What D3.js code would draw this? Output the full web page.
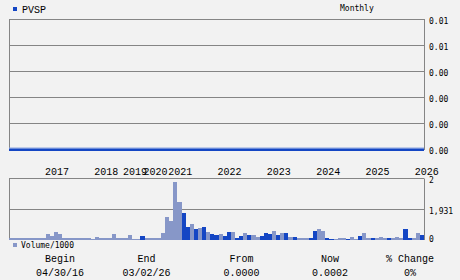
<!DOCTYPE html>
<html>
<head>
<meta charset="utf-8">
<script src="https://cdn.jsdelivr.net/npm/d3@7"></script>
<style>
  body { margin: 0; background: #f2f2f2; }
  svg { display: block; }
  .small { font-family: "DejaVu Sans Mono", monospace; font-size: 8px; fill: #000; }
  .mono { font-family: "Liberation Mono", monospace; font-size: 10px; fill: #000; }
</style>
</head>
<body>
<div id="chart"></div>
<script>
var symbol = "PVSP";
var period = "Monthly";

var months = [
  "2016-04","2016-05","2016-06","2016-07","2016-08","2016-09","2016-10","2016-11","2016-12",
  "2017-01","2017-02","2017-03","2017-04","2017-05","2017-06","2017-07","2017-08","2017-09","2017-10","2017-11","2017-12",
  "2018-01","2018-02","2018-03","2018-04","2018-06","2018-08","2018-11",
  "2019-02","2019-04","2019-06","2019-09","2019-12",
  "2020-02","2020-04","2020-07","2020-09","2020-11","2020-12",
  "2021-01","2021-02","2021-03","2021-04","2021-05","2021-06","2021-07","2021-08","2021-09","2021-10","2021-11","2021-12",
  "2022-01","2022-02","2022-03","2022-04","2022-05","2022-06","2022-07","2022-08","2022-09","2022-10","2022-11","2022-12",
  "2023-01","2023-02","2023-03","2023-04","2023-05","2023-06","2023-07","2023-08","2023-09","2023-10","2023-11","2023-12",
  "2024-01","2024-02","2024-03","2024-04","2024-05","2024-06","2024-07","2024-08","2024-09","2024-10","2024-11","2024-12",
  "2025-01","2025-02","2025-03","2025-04","2025-05","2025-06","2025-07","2025-08","2025-09","2025-10","2025-11","2025-12",
  "2026-01","2026-02"
];

// volume in thousands
var volume = [
  0.07,0.07,0.07,0.07,0.07,0.07,0.07,0.07,0.07,0.20,
  0.13,0.26,0.20,0.07,0.07,0.07,0.07,0.07,0.07,0.07,
  0.03,0.10,0.05,0.05,0.05,0.20,0.07,0.07,0.05,0.16,
  0.03,0.03,0.13,0.07,0.07,0.07,0.07,0.23,0.75,0.62,
  1.90,1.25,0.89,0.43,0.52,0.36,0.39,0.43,0.26,0.20,
  0.16,0.20,0.13,0.26,0.26,0.07,0.13,0.23,0.16,0.16,
  0.10,0.13,0.23,0.20,0.30,0.16,0.23,0.23,0.10,0.10,
  0.07,0.07,0.07,0.07,0.30,0.36,0.30,0.07,0.03,0.03,
  0.07,0.07,0.03,0.10,0.03,0.13,0.23,0.07,0.07,0.07,
  0.10,0.07,0.07,0.07,0.10,0.07,0.36,0.07,0.07,0.23,
  0.16
];

// 1 = up month (dark bar), 0 = down/flat (light bar)
var upMonth = [
  0,0,0,0,0,0,0,0,0,0,
  0,0,0,0,0,0,0,0,0,0,
  0,0,0,0,0,0,0,0,0,0,
  0,0,1,0,0,0,0,0,0,0,
  0,0,1,1,0,1,0,1,0,1,
  1,0,1,1,0,1,1,0,1,0,
  0,1,1,1,0,1,0,1,0,1,
  0,0,0,1,1,0,0,1,1,0,
  0,0,1,0,0,1,0,0,1,0,
  0,0,1,0,0,0,1,1,0,0,
  1
];

var price = [
  0,0,0,0,0,0,0,0,0,0,
  0,0,0,0,0,0,0,0,0,0,
  0,0,0,0,0,0,0,0,0,0,
  0,0,0,0,0,0,0,0,0,0,
  0,0,0,0,0,0,0,0,0,0,
  0,0,0,0,0,0,0,0,0,0,
  0,0,0,0,0,0,0,0,0,0,
  0,0,0,0,0,0,0,0,0,0,
  0,0,0,0,0,0,0,0,0,0,
  0,0,0,0,0,0,0,0,0,0,
  0
];

var priceTicks = [0, 0.002, 0.004, 0.006, 0.008, 0.01];
var priceTickLabels = ["0.00", "0.00", "0.00", "0.00", "0.01", "0.01"];
var volTicks = [0, 1, 2];
var volTickLabels = ["0", "1,931", "2"];

var summaryHeads = ["Begin", "End", "From", "Now", "% Change"];
var summaryValues = ["04/30/16", "03/02/26", "0.0000", "0.0002", "0%"];

drawChart();

function drawChart() {

  var width = 460, height = 280;
  var left = 9, right = 424;
  var dark = "#1446c4", light = "#8797c8", grid = "#858585";

  var svg = d3.select("#chart").append("svg")
      .attr("width", width)
      .attr("height", height);

  var x = d3.scaleBand().domain(months).range([left, right]);
  var xLine = d3.scalePoint().domain(months).range([left, right]);
  var yPrice = d3.scaleLinear().domain([0, 0.01]).range([149, 19]);
  var yVol = d3.scaleLinear().domain([0, 2]).range([240, 179]);

  // header
  svg.append("rect")
      .attr("x", 13).attr("y", 7).attr("width", 4).attr("height", 4)
      .attr("fill", dark);
  svg.append("text").attr("class", "mono")
      .attr("x", 22).attr("y", 13)
      .text(symbol);
  svg.append("text").attr("class", "small")
      .attr("x", 340).attr("y", 11)
      .text(period);

  // price panel
  var top = svg.append("g");

  top.selectAll("line.grid")
      .data(priceTicks)
    .enter().append("line")
      .attr("class", "grid")
      .attr("x1", left).attr("x2", right + 0.5)
      .attr("y1", function(d) { return Math.round(yPrice(d)) + 0.5; })
      .attr("y2", function(d) { return Math.round(yPrice(d)) + 0.5; })
      .attr("stroke", grid);

  top.append("line")
      .attr("x1", left + 0.5).attr("x2", left + 0.5)
      .attr("y1", 19).attr("y2", 150)
      .attr("stroke", grid);
  top.append("line")
      .attr("x1", right + 0.5).attr("x2", right + 0.5)
      .attr("y1", 19).attr("y2", 150)
      .attr("stroke", grid);

  top.selectAll("text.tick")
      .data(priceTicks)
    .enter().append("text")
      .attr("class", "small")
      .attr("x", 429)
      .attr("y", function(d) { return Math.round(yPrice(d)) + 5; })
      .text(function(d, i) { return priceTickLabels[i]; });

  var line = d3.line()
      .x(function(d, i) { return xLine(months[i]); })
      .y(function(d) { return yPrice(d); });

  top.append("path")
      .datum(price)
      .attr("d", line)
      .attr("fill", "none")
      .attr("stroke", "#8aa4e0")
      .attr("stroke-width", 3.2)
      .attr("transform", "translate(0,0.2)");
  top.append("path")
      .datum(price)
      .attr("d", line)
      .attr("fill", "none")
      .attr("stroke", dark)
      .attr("stroke-width", 2.2)
      .attr("transform", "translate(0,0.8)");

  // year labels at the first bar of each year
  var yearStarts = months.filter(function(m, i) {
    return i > 0 && m.slice(0, 4) !== months[i - 1].slice(0, 4);
  });

  svg.selectAll("text.year")
      .data(yearStarts)
    .enter().append("text")
      .attr("class", "mono")
      .attr("x", function(d) { return x(d) - 1; })
      .attr("y", 175)
      .text(function(d) { return d.slice(0, 4); });

  // volume panel
  var vol = svg.append("g");

  vol.selectAll("line.grid")
      .data(volTicks)
    .enter().append("line")
      .attr("x1", left).attr("x2", right + 0.5)
      .attr("y1", function(d) { return Math.round(yVol(d)) - 0.5; })
      .attr("y2", function(d) { return Math.round(yVol(d)) - 0.5; })
      .attr("stroke", grid);

  vol.append("line")
      .attr("x1", left + 0.5).attr("x2", left + 0.5)
      .attr("y1", 179).attr("y2", 240)
      .attr("stroke", grid);
  vol.append("line")
      .attr("x1", right + 0.5).attr("x2", right + 0.5)
      .attr("y1", 179).attr("y2", 240)
      .attr("stroke", grid);

  vol.selectAll("rect.bar")
      .data(volume)
    .enter().append("rect")
      .attr("class", "bar")
      .attr("x", function(d, i) { return x(months[i]); })
      .attr("width", x.bandwidth())
      .attr("y", function(d) { return yVol(d); })
      .attr("height", function(d) { return yVol(0) - yVol(d); })
      .attr("fill", function(d, i) { return upMonth[i] ? dark : light; })
      .attr("shape-rendering", "crispEdges");

  vol.selectAll("text.tick")
      .data(volTicks)
    .enter().append("text")
      .attr("class", "small")
      .attr("x", 429)
      .attr("y", function(d) { return Math.min(Math.round(yVol(d)) + 4, 242); })
      .text(function(d, i) { return volTickLabels[i]; });

  svg.append("rect")
      .attr("x", 13).attr("y", 243).attr("width", 4).attr("height", 4)
      .attr("fill", light);
  svg.append("text").attr("class", "small")
      .attr("x", 21).attr("y", 248)
      .text("Volume/1000");

  // summary row
  var cols = [60, 146.5, 241.5, 330, 410];

  svg.selectAll("text.head")
      .data(summaryHeads)
    .enter().append("text")
      .attr("class", "mono")
      .attr("text-anchor", "middle")
      .attr("x", function(d, i) { return cols[i]; })
      .attr("y", 262)
      .text(function(d) { return d; });

  svg.selectAll("text.val")
      .data(summaryValues)
    .enter().append("text")
      .attr("class", "mono")
      .attr("text-anchor", "middle")
      .attr("x", function(d, i) { return cols[i]; })
      .attr("y", 276)
      .text(function(d) { return d; });
}
</script>
</body>
</html>
